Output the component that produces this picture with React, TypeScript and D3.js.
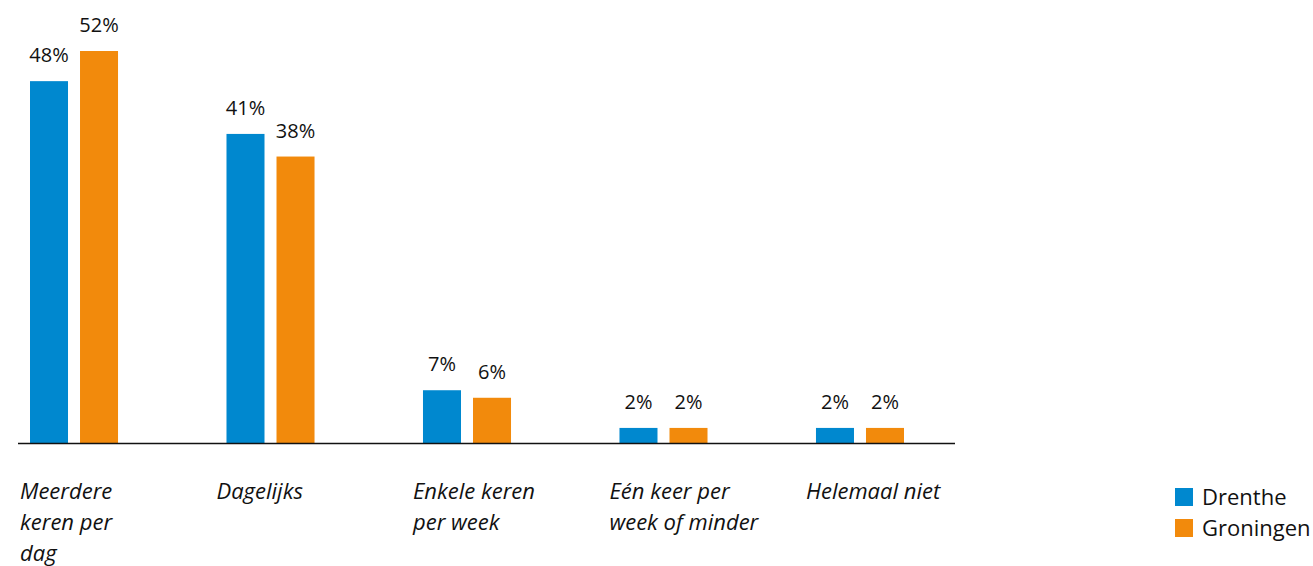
import { useEffect, useRef } from "react";
import * as d3 from "d3";

const categories = [
  "Meerdere keren per dag",
  "Dagelijks",
  "Enkele keren per week",
  "Eén keer per week of minder",
  "Helemaal niet",
];
// wrapped lines as in the original labels
const categoryLines = [
  ["Meerdere", "keren per", "dag"],
  ["Dagelijks"],
  ["Enkele keren", "per week"],
  ["Eén keer per", "week of minder"],
  ["Helemaal niet"],
];
const seriesNames = ["Drenthe", "Groningen"];
const drenthe = [48, 41, 7, 2, 2];
const groningen = [52, 38, 6, 2, 2];
const colors = ["#0088cf", "#f28a0c"];

const App = () => {
  const svgRef = useRef<SVGSVGElement>(null);

  useEffect(() => {
    const width = 1313;
    const height = 566;
    const baseline = 443;
    const font = "'Open Sans', sans-serif";

    const svg = d3.select(svgRef.current);
    svg.selectAll("*").remove();
    svg.attr("width", width).attr("height", height);

    const x0 = d3.scaleBand<string>()
      .domain(categories)
      .range([30, 904])
      .paddingInner(0.552)
      .paddingOuter(0);

    const x1 = d3.scaleBand<string>()
      .domain(seriesNames)
      .range([0, x0.bandwidth()])
      .paddingInner(0.24)
      .paddingOuter(0);

    const y = d3.scaleLinear().domain([0, 52]).range([baseline, 51]);

    const rows = categories.map((c, i) => ({
      category: c,
      values: [
        { series: "Drenthe", value: drenthe[i] },
        { series: "Groningen", value: groningen[i] },
      ],
    }));

    const color = d3.scaleOrdinal<string, string>().domain(seriesNames).range(colors);

    const groups = svg.append("g")
      .selectAll("g")
      .data(rows)
      .join("g")
      .attr("transform", d => `translate(${x0(d.category)},0)`);

    groups.selectAll("rect")
      .data(d => d.values)
      .join("rect")
      .attr("x", d => x1(d.series)!)
      .attr("y", d => y(d.value))
      .attr("width", x1.bandwidth())
      .attr("height", d => y(0) - y(d.value))
      .attr("fill", d => color(d.series));

    groups.selectAll("text.value")
      .data(d => d.values)
      .join("text")
      .attr("class", "value")
      .attr("x", d => x1(d.series)! + x1.bandwidth() / 2)
      .attr("y", d => y(d.value) - 19)
      .attr("text-anchor", "middle")
      .style("font-family", font)
      .style("font-size", "20px")
      .style("fill", "#111")
      .text(d => `${d.value}%`);

    // baseline axis
    svg.append("line")
      .attr("x1", 18)
      .attr("x2", 955)
      .attr("y1", baseline + 0.5)
      .attr("y2", baseline + 0.5)
      .attr("stroke", "#111")
      .attr("stroke-width", 1.3);

    // category labels
    const labels = svg.append("g")
      .selectAll("text")
      .data(categories)
      .join("text")
      .attr("x", d => x0(d)! - 10)
      .attr("y", 499)
      .style("font-family", font)
      .style("font-style", "italic")
      .style("font-size", "22px")
      .style("fill", "#111");

    labels.selectAll("tspan")
      .data((d, i) => categoryLines[i])
      .join("tspan")
      .attr("x", function () {
        return (this.parentNode as SVGTextElement).getAttribute("x");
      })
      .attr("dy", (d, i) => (i === 0 ? 0 : 31))
      .text(d => d);

    // legend
    const legend = svg.append("g")
      .selectAll("g")
      .data(seriesNames)
      .join("g")
      .attr("transform", (d, i) => `translate(1175,${488 + i * 31})`);

    legend.append("rect")
      .attr("width", 18)
      .attr("height", 18)
      .attr("fill", d => color(d));

    legend.append("text")
      .attr("x", 27)
      .attr("y", 17)
      .style("font-family", font)
      .style("font-size", "22px")
      .style("fill", "#111")
      .text(d => d);

    return () => {
      svg.selectAll("*").remove();
    };
  }, []);

  return (
    <svg
      ref={svgRef}
      style={{ position: "absolute", left: 0, top: 0, background: "#fff" }}
    />
  );
};

export default App;
